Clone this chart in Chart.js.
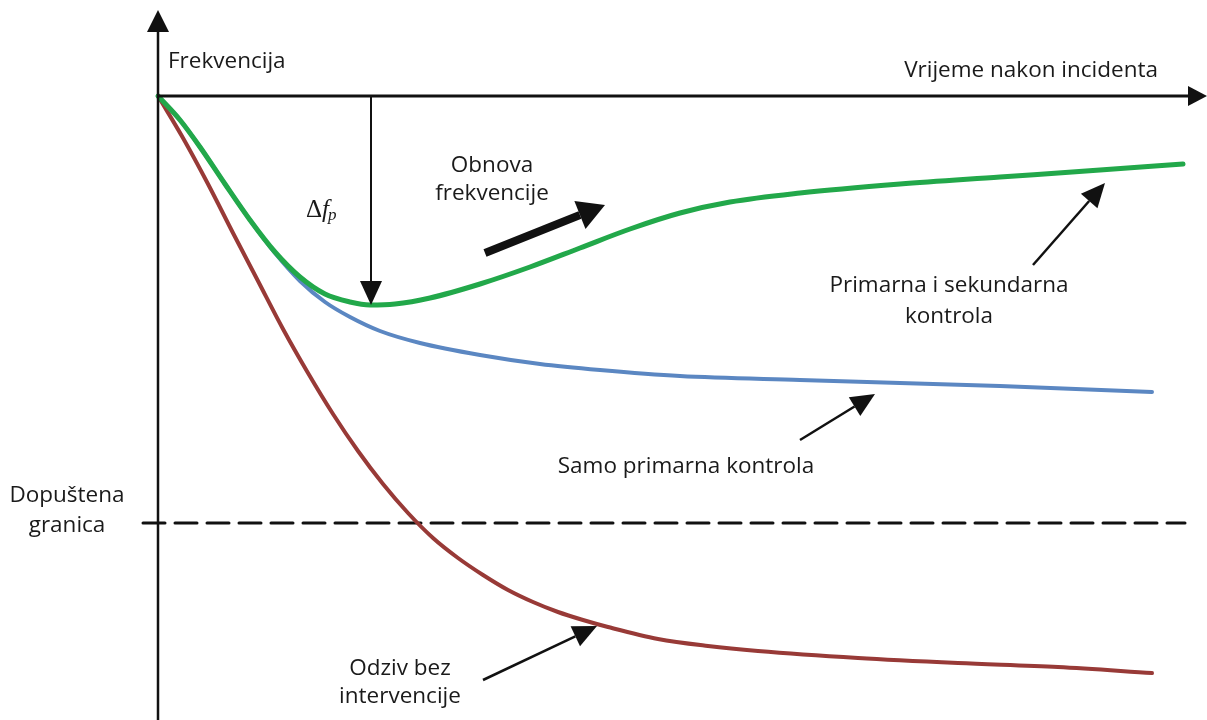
<!DOCTYPE html>
<html>
<head>
<meta charset="utf-8">
<script src="https://cdn.jsdelivr.net/npm/chart.js@4.4.1/dist/chart.umd.min.js"></script>
<style>
  html, body { margin: 0; padding: 0; background: #fff; }
  canvas { display: block; }
</style>
</head>
<body>
<canvas id="chart" width="1207" height="720"></canvas>
<script>
// time after incident (arbitrary units) and frequency deviation (arbitrary units)
const timeGreen = [0, 2.2, 4.2, 6.7, 9.2, 11.7, 14.2, 16.7, 19.2, 21.2, 23.7, 27.2, 32.2, 37.2, 42.2, 47.2, 52.2, 57.2, 64.2, 74.2, 84.2, 94.2, 102.5];
const freqGreen = [0, -2.4, -5.1, -8.8, -12.4, -15.6, -18.1, -19.8, -20.6, -20.9, -20.8, -20.2, -18.8, -17.1, -15.2, -13.3, -11.7, -10.6, -9.7, -8.8, -8.1, -7.4, -6.8];

const timeBlue = [0, 2.2, 4.2, 6.7, 9.2, 11.7, 14.2, 16.7, 19.2, 22.2, 26.2, 32.2, 38.2, 44.2, 52.2, 64.2, 74.2, 84.2, 99.4];
const freqBlue = [0, -2.4, -5.1, -8.8, -12.4, -15.7, -18.5, -20.6, -22.1, -23.5, -24.7, -25.9, -26.8, -27.4, -28.0, -28.4, -28.7, -29.0, -29.6];

const timeRed = [0, 2.5, 5, 7.5, 10, 12.5, 15, 17.5, 20, 22.5, 25, 27.5, 30, 32.5, 35, 37.5, 40, 42.5, 45, 50, 55, 60, 70, 80, 90, 99.4];
const freqRed = [0, -4.2, -8.8, -13.7, -18.5, -23.3, -27.7, -31.8, -35.5, -38.8, -41.7, -44.2, -46.2, -47.9, -49.4, -50.6, -51.6, -52.4, -53.1, -54.3, -55.0, -55.5, -56.2, -56.7, -57.1, -57.7];

const limitTime = [-1.5, 102.7];
const limitFreq = -42.7;

const pts = (xs, ys) => xs.map((x, i) => ({ x, y: Array.isArray(ys) ? ys[i] : ys }));

const FONT = '22.5px "Open Sans", Lato, sans-serif';

// annotations in data units
const texts = [
  { t: 1.0, f: 2.8, text: 'Frekvencija', align: 'left' },
  { t: 100, f: 1.9, text: 'Vrijeme nakon incidenta', align: 'right' },
  { t: 33.4, f: -7.6, text: 'Obnova', align: 'center' },
  { t: 33.4, f: -10.4, text: 'frekvencije', align: 'center' },
  { t: 79.1, f: -19.6, text: 'Primarna i sekundarna', align: 'center' },
  { t: 79.1, f: -22.7, text: 'kontrola', align: 'center' },
  { t: 52.8, f: -37.7, text: 'Samo primarna kontrola', align: 'center' },
  { t: -9.1, f: -40.6, text: 'Dopuštena', align: 'center' },
  { t: -9.1, f: -43.6, text: 'granica', align: 'center' },
  { t: 24.2, f: -57.9, text: 'Odziv bez', align: 'center' },
  { t: 24.2, f: -60.7, text: 'intervencije', align: 'center' }
];

const arrows = [
  { from: [0, 0], to: [104.9, 0], w: 3, len: 19, half: 10 },
  { from: [0, -62.4], to: [0, 8.6], w: 2.5, len: 22, half: 11 },
  { from: [21.3, 0], to: [21.3, -20.9], w: 2, len: 24, half: 11 },
  { from: [32.7, -15.7], to: [44.7, -10.9], w: 8, len: 27, half: 15 },
  { from: [87.5, -16.9], to: [94.7, -8.7], w: 2.5, len: 24, half: 11 },
  { from: [64.2, -34.4], to: [71.7, -29.8], w: 2.5, len: 24, half: 11 },
  { from: [32.5, -58.4], to: [43.9, -53.0], w: 2.5, len: 24, half: 11 }
];

const annotations = {
  id: 'annotations',
  afterDatasetsDraw(chart) {
    const { ctx, scales: { x, y } } = chart;
    ctx.save();
    ctx.fillStyle = '#111';
    ctx.strokeStyle = '#111';
    ctx.lineCap = 'butt';

    arrows.forEach(a => {
      const x1 = x.getPixelForValue(a.from[0]), y1 = y.getPixelForValue(a.from[1]);
      const x2 = x.getPixelForValue(a.to[0]), y2 = y.getPixelForValue(a.to[1]);
      const ang = Math.atan2(y2 - y1, x2 - x1);
      const bx = x2 - a.len * Math.cos(ang), by = y2 - a.len * Math.sin(ang);
      ctx.lineWidth = a.w;
      ctx.beginPath();
      ctx.moveTo(x1, y1);
      ctx.lineTo(bx, by);
      ctx.stroke();
      ctx.beginPath();
      ctx.moveTo(x2, y2);
      ctx.lineTo(bx + a.half * Math.sin(ang), by - a.half * Math.cos(ang));
      ctx.lineTo(bx - a.half * Math.sin(ang), by + a.half * Math.cos(ang));
      ctx.closePath();
      ctx.fill();
    });

    ctx.font = FONT;
    ctx.textBaseline = 'alphabetic';
    ctx.fillStyle = '#1a1a1a';
    texts.forEach(l => {
      ctx.textAlign = l.align;
      ctx.fillText(l.text, x.getPixelForValue(l.t), y.getPixelForValue(l.f));
    });

    // delta f_p label
    const dx = x.getPixelForValue(14.8), dy = y.getPixelForValue(-12.1);
    ctx.textAlign = 'left';
    ctx.font = '25px "Liberation Serif", serif';
    ctx.fillText('Δ', dx, dy);
    const w1 = ctx.measureText('Δ').width;
    ctx.font = 'italic 25px "Liberation Serif", serif';
    ctx.fillText('f', dx + w1, dy);
    const w2 = ctx.measureText('f').width;
    ctx.font = 'italic 17px "Liberation Serif", serif';
    ctx.fillText('p', dx + w1 + w2 - 1, dy + 3);
    ctx.restore();
  }
};

new Chart(document.getElementById('chart'), {
  type: 'line',
  data: {
    datasets: [
      {
        label: 'Primarna i sekundarna kontrola',
        data: pts(timeGreen, freqGreen),
        borderColor: '#22a84a',
        borderWidth: 5,
        order: 0
      },
      {
        label: 'Samo primarna kontrola',
        data: pts(timeBlue, freqBlue),
        borderColor: '#5b87c2',
        borderWidth: 4,
        order: 1
      },
      {
        label: 'Odziv bez intervencije',
        data: pts(timeRed, freqRed),
        borderColor: '#983a37',
        borderWidth: 4,
        order: 2
      },
      {
        label: 'Dopuštena granica',
        data: pts(limitTime, limitFreq),
        borderColor: '#111',
        borderWidth: 3,
        borderDash: [22, 10],
        cubicInterpolationMode: 'default',
        tension: 0,
        order: 3
      }
    ]
  },
  options: {
    responsive: false,
    animation: false,
    events: [],
    layout: { padding: 0 },
    elements: {
      point: { radius: 0 },
      line: { cubicInterpolationMode: 'monotone', fill: false, borderCapStyle: 'round' }
    },
    plugins: {
      legend: { display: false },
      tooltip: { enabled: false }
    },
    scales: {
      x: { type: 'linear', min: -15.8, max: 104.9, display: false },
      y: { type: 'linear', min: -62.4, max: 9.6, display: false }
    }
  },
  plugins: [annotations]
});
</script>
</body>
</html>
